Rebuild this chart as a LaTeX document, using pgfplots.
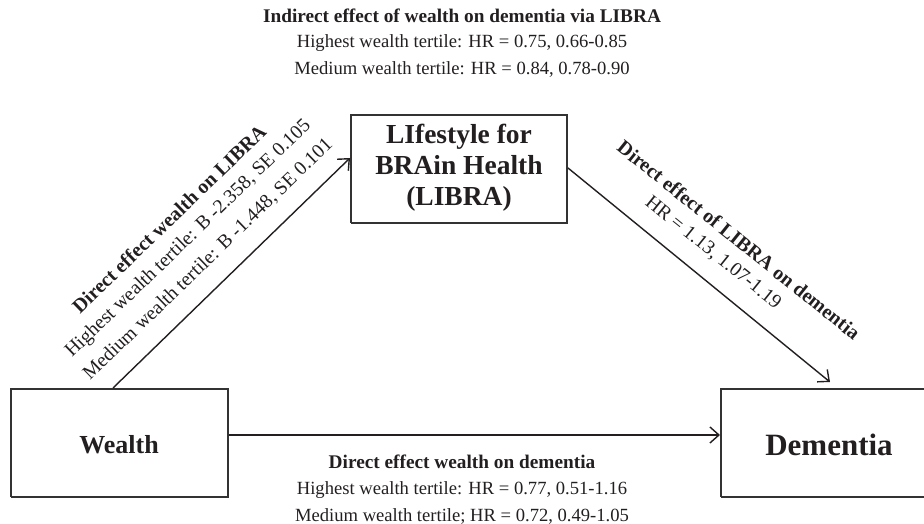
\documentclass[border=0pt]{standalone}
\usepackage{pgfplots}
\pgfplotsset{compat=1.18}
\usepackage{fontspec}
\setmainfont{Liberation Serif}
\usetikzlibrary{arrows.meta}
\definecolor{ink}{HTML}{231F20}
\definecolor{frame}{HTML}{333333}
\begin{document}
\begin{tikzpicture}
\begin{axis}[
  x=1pt, y=1pt, xmin=0, xmax=924, ymin=0, ymax=524,
  hide axis, clip=false, scale only axis,
  every axis plot/.append style={line width=1.6pt, color=frame},
]
% boxes
\addplot[draw=frame] coordinates {(11,27) (228,27) (228,135) (11,135) (11,27)};
\addplot[draw=frame] coordinates {(351,301) (567,301) (567,409) (351,409) (351,301)};
\addplot[draw=frame] coordinates {(721,27) (930,27) (930,135) (721,135) (721,27)};
% arrows
\addplot[draw=ink, line width=1.4pt, -{Straight Barb[length=9pt,width=16pt,line width=1.4pt]}] coordinates {(113,136) (350,366)};
\addplot[draw=ink, line width=1.4pt, -{Straight Barb[length=9pt,width=16pt,line width=1.4pt]}] coordinates {(568,356) (830,142)};
\addplot[draw=ink, line width=1.4pt, -{Straight Barb[length=9pt,width=16pt,line width=1.4pt]}] coordinates {(229,89) (720,89)};
% box labels
\node[text=ink, align=center, font=\fontsize{27.5}{31}\selectfont\bfseries] at (axis cs:459,356) {LIfestyle for\\BRAin Health\\(LIBRA)};
\node[text=ink, font=\fontsize{26}{30}\selectfont\bfseries] at (axis cs:119,79) {Wealth};
\node[text=ink, font=\fontsize{31}{35}\selectfont\bfseries] at (axis cs:829,79) {Dementia};
% top text
\node[text=ink, font=\fontsize{19.3}{22}\selectfont\bfseries] at (axis cs:462,508) {Indirect effect of wealth on dementia via LIBRA};
\node[text=ink, font=\fontsize{18.6}{22}\selectfont] at (axis cs:462,481) {Highest wealth tertile: HR = 0.75, 0.66-0.85};
\node[text=ink, font=\fontsize{18.6}{22}\selectfont] at (axis cs:462,455) {Medium wealth tertile: HR = 0.84, 0.78-0.90};
% bottom text
\node[text=ink, font=\fontsize{19.3}{22}\selectfont\bfseries] at (axis cs:462,62) {Direct effect wealth on dementia};
\node[text=ink, font=\fontsize{18.6}{22}\selectfont] at (axis cs:462,34) {Highest wealth tertile: HR = 0.77, 0.51-1.16};
\node[text=ink, font=\fontsize{18.6}{22}\selectfont] at (axis cs:462,8) {Medium wealth tertile; HR = 0.72, 0.49-1.05};
% left diagonal
\node[text=ink, rotate=44, font=\fontsize{20}{22}\selectfont\bfseries] at (axis cs:169,305) {Direct effect wealth on LIBRA};
\node[text=ink, rotate=44, font=\fontsize{19.7}{22}\selectfont] at (axis cs:188.5,285) {Highest wealth tertile: B -2.358, SE 0.105};
\node[text=ink, rotate=44, font=\fontsize{19.7}{22}\selectfont] at (axis cs:208,264.5) {Medium wealth tertile: B -1.448, SE 0.101};
% right diagonal
\node[text=ink, rotate=-38.8, font=\fontsize{20}{22}\selectfont\bfseries] at (axis cs:739,284) {Direct effect of LIBRA on dementia};
\node[text=ink, rotate=-38.8, font=\fontsize{19.7}{22}\selectfont] at (axis cs:713,271) {HR = 1.13, 1.07-1.19};
\end{axis}
\pgfresetboundingbox
\path (0,0) rectangle (924pt,524pt);
\end{tikzpicture}
\end{document}
